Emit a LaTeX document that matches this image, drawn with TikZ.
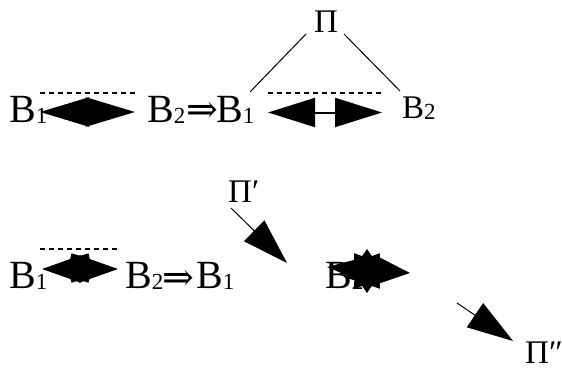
\documentclass[tikz,border=0pt]{standalone}
\usepackage{fontspec}
\setmainfont{Liberation Serif}
\newfontfamily\arrowfont{DejaVu Serif}
\usetikzlibrary{arrows.meta,calc,shapes.geometric}
\newcommand{\idx}[1]{\raisebox{-1.5pt}{\fontsize{23}{23}\selectfont #1}}

\begin{document}
\begin{tikzpicture}[
    x=1pt, y=-1pt,
    big/.style={inner sep=0pt, anchor=base west, font=\fontsize{40}{40}\selectfont},
    small/.style={inner sep=0pt, anchor=base west, font=\fontsize{33}{33}\selectfont},
    impl/.style={inner sep=0pt, font=\arrowfont\fontsize{38}{38}\selectfont},
    dots/.style={line width=2pt, dash pattern=on 5pt off 4pt},
    thin/.style={line width=1pt},
    twohead/.style={line width=2pt, {Triangle[length=49pt,width=29pt]}-{Triangle[length=49pt,width=29pt]}},
    twosmall/.style={line width=2pt, {Triangle[length=39pt,width=27pt]}-{Triangle[length=39pt,width=27pt]}},
    twostar/.style={line width=2pt, {Triangle[length=36pt,width=24pt]}-{Triangle[length=36pt,width=30pt]}},
    onehead/.style={line width=1pt, -{Triangle[length=46pt,width=29pt]}},
    spiky/.style={star, fill=black, inner sep=0pt}
]
\useasboundingbox (0,0) rectangle (562,369);

% first line
\node[big] (b1a) at (9,122) {B\idx{1}};
\node[big] (b2a) at (147,122) {B\idx{2}};
\node[impl] (ra) at (202,112) {⇒};
\node[big] (b1b) at (216,122) {B\idx{1}};
\node[small] (pi) at (314,33) {Π};
\node[small] (b2b) at (402,118) {B\idx{2}};

\draw[dots] ($(b1a.base west)+(31,-29)$) -- ($(b2a.base west)+(-10,-29)$);
\draw[twohead] ($(b1a.base west)+(31,-10)$) -- ($(b2a.base west)+(-12,-10)$);
\draw[dots] ($(b1b.base west)+(52,-29)$) -- ($(b2b.base west)+(-20,-25)$);
\draw[twohead, {Triangle[length=47pt,width=29pt]}-{Triangle[length=47pt,width=29pt]}] ($(b1b.base west)+(52,-9.5)$) -- ($(b2b.base west)+(-20,-5.5)$);
\draw[thin] ($(pi.base west)+(-8,1)$) -- ($(b1b.base west)+(34,-30)$);
\draw[thin] ($(pi.base west)+(30,1)$) -- ($(b2b.base west)+(-2,-27)$);

% second line
\node[big] (b1c) at (9,288) {B\idx{1}};
\node[big] (b2c) at (125,288) {B\idx{2}};
\node[impl] (rb) at (178,280) {⇒};
\node[big] (b1d) at (196,288) {B\idx{1}};
\node[small] (pip) at (228,202) {Π′};
\node[big] (b2d) at (325,288) {B\idx{2}};
\node[small] (pipp) at (525,363) {Π″};
\coordinate (pe) at (287,263);
\coordinate (ps) at (457,303);

\draw[dots] ($(b1c.base west)+(31,-39)$) -- ($(b2c.base west)+(-7,-39)$);
\draw[twosmall] ($(b1c.base west)+(33,-19)$) -- ($(b2c.base west)+(-7,-19)$);
\node[spiky, star points=6, shape border rotate=30, minimum size=34pt, star point ratio=1.4] (sta) at (80,268) {};
\draw[onehead] ($(pip.base west)+(3,6)$) -- (pe);
\draw[twostar] ($(b2d.base west)+(2,-21)$) -- ($(b2d.base west)+(85,-15)$);
\node[spiky, star points=10, minimum size=44pt, star point ratio=1.4] (stb) at (367,271) {};
\draw[onehead] (ps) -- ($(pipp.base west)+(-12,-22)$);
\end{tikzpicture}
\end{document}
